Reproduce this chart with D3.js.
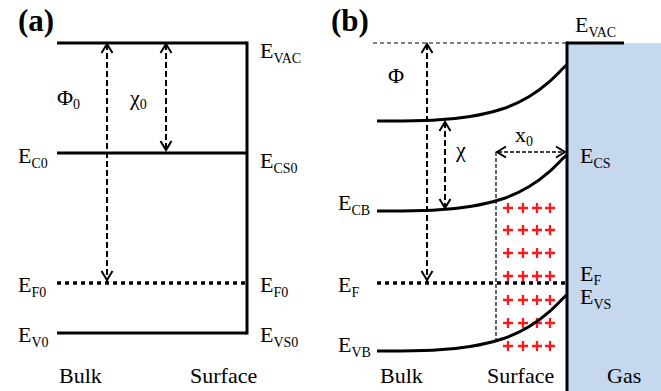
<!DOCTYPE html>
<html>
<head>
<meta charset="utf-8">
<script src="https://cdnjs.cloudflare.com/ajax/libs/d3/7.8.5/d3.min.js"></script>
<style>
  body { margin: 0; background: #fff; }
</style>
</head>
<body>
<script>
// energies in eV below the vacuum level, depth in arbitrary units from the surface

// panel (a): flat bands
var levelEnergiesA = [0, -1.1, -2.4, -2.9];
var levelStylesA = ["solid", "solid", "dotted", "solid"];
var leftSubsA = [null, "C0", "F0", "V0"];
var rightSubsA = ["VAC", "CS0", "F0", "VS0"];

// panel (b): bent bands
var bulkEnergiesB = [-0.78, -1.68, -3.08]; // vacuum, E_CB, E_VB
var fermiB = -2.4;
var bendDepth = [19, 13, 9.7, 6.4, 3.7, 1.7, 0.2, 0];
var bendAmount = [0, 0, 0.04, 0.11, 0.24, 0.39, 0.55, 0.56];
var x0Depth = 7.1;
var plusDepths = [5.9, 4.4, 3.0, 1.7];
var plusEnergies = [-1.65, -1.87, -2.10, -2.33, -2.57, -2.80, -3.03];

var regionLabels = ["Bulk", "Surface", "Gas"];

var W = 661, H = 391;
var serif = "Liberation Serif";

var svg = d3.select("body").append("svg")
    .attr("width", W)
    .attr("height", H)
    .attr("font-family", serif);

var y = d3.scaleLinear().domain([0, -3]).range([43, 343]);
var xA = d3.scaleLinear().domain([19, 0]).range([57, 247]);
var xB = d3.scaleLinear().domain([19, 0]).range([377, 567]);

// band bending at a given depth (linear between read points)
function bend(d) {
    for (var i = 0; i < bendDepth.length - 1; i++) {
        if (d <= bendDepth[i] && d >= bendDepth[i + 1]) {
            var t = (bendDepth[i] - d) / (bendDepth[i] - bendDepth[i + 1]);
            return bendAmount[i] + t * (bendAmount[i + 1] - bendAmount[i]);
        }
    }
    return 0;
}

function txt(x, yb, s, size) {
    return svg.append("text")
        .attr("x", x)
        .attr("y", yb)
        .attr("font-family", serif)
        .attr("font-size", size || 22)
        .attr("fill", "#000")
        .text(s);
}

function eLabel(x, yb, sub, dy) {
    var t = txt(x, yb, "E");
    if (sub) {
        t.append("tspan")
            .attr("dy", dy || 5)
            .attr("font-size", 14)
            .text(sub);
    }
}

function symLabel(x, yb, sym, sub) {
    var t = txt(x, yb, sym);
    if (sub) {
        t.append("tspan")
            .attr("dy", 4)
            .attr("font-size", 14)
            .text(sub);
    }
}

// open V arrowhead, dir = "up" | "down" | "left" | "right"
function head(x, yy, dir) {
    var a = 5.5, l = 9;
    var p;
    if (dir == "up") p = [[x - a, yy + l], [x, yy], [x + a, yy + l]];
    if (dir == "down") p = [[x - a, yy - l], [x, yy], [x + a, yy - l]];
    if (dir == "left") p = [[x + l, yy - a], [x, yy], [x + l, yy + a]];
    if (dir == "right") p = [[x - l, yy - a], [x, yy], [x - l, yy + a]];
    svg.append("path")
        .attr("d", d3.line()(p))
        .attr("fill", "none")
        .attr("stroke", "#000")
        .attr("stroke-width", 2);
}

function vArrow(x, e1, e2) {
    svg.append("line")
        .attr("x1", x).attr("x2", x)
        .attr("y1", y(e1) + 1).attr("y2", y(e2) - 1)
        .attr("stroke", "#000")
        .attr("stroke-width", 2)
        .attr("stroke-dasharray", "6,3");
    head(x, y(e1) + 1, "up");
    head(x, y(e2) - 3, "down");
}

// ---------- panel (a) ----------
txt(18, 31, "(a)", 31).attr("font-weight", "bold");

svg.selectAll("line.levA")
    .data(levelEnergiesA)
    .enter()
    .append("line")
    .attr("class", "levA")
    .attr("x1", xA(19))
    .attr("x2", xA(0))
    .attr("y1", function(d) { return y(d); })
    .attr("y2", function(d) { return y(d); })
    .attr("stroke", "#000")
    .attr("stroke-width", function(d, i) { return levelStylesA[i] == "dotted" ? 3.5 : 3; })
    .attr("stroke-dasharray", function(d, i) { return levelStylesA[i] == "dotted" ? "4,4" : null; });

svg.append("line")
    .attr("x1", xA(0)).attr("x2", xA(0))
    .attr("y1", y(levelEnergiesA[0]) - 1.5)
    .attr("y2", y(levelEnergiesA[3]) + 1.5)
    .attr("stroke", "#000")
    .attr("stroke-width", 3);

vArrow(xA(14), levelEnergiesA[0], levelEnergiesA[2]);
vArrow(xA(8.1), levelEnergiesA[0], levelEnergiesA[1]);
symLabel(57, 105, "\u03A6", "0");
symLabel(130, 105, "\u03C7", "0");

var leftOffA = [0, 10, 9, 9];
var rightOffA = [15, 15, 9, 9];
levelEnergiesA.forEach(function(e, i) {
    if (leftSubsA[i]) eLabel(18, y(e) + leftOffA[i], leftSubsA[i]);
    eLabel(260, y(e) + rightOffA[i], rightSubsA[i]);
});

txt(59, 383, regionLabels[0]);
txt(190, 383, regionLabels[1]);

// ---------- panel (b) ----------
svg.append("rect")
    .attr("x", xB(0))
    .attr("y", y(0))
    .attr("width", W - xB(0))
    .attr("height", H - y(0))
    .attr("fill", "#c6d8ee");

txt(331, 31, "(b)", 31).attr("font-weight", "bold");

// thin dashed vacuum reference
svg.append("line")
    .attr("x1", 373).attr("x2", xB(0))
    .attr("y1", y(0)).attr("y2", y(0))
    .attr("stroke", "#000")
    .attr("stroke-width", 1)
    .attr("stroke-dasharray", "4,3");

// positive charges
plusEnergies.forEach(function(e) {
    plusDepths.forEach(function(d) {
        var cx = xB(d), cy = y(e);
        svg.append("path")
            .attr("d", "M" + (cx - 5) + "," + cy + "H" + (cx + 5) + "M" + cx + "," + (cy - 5) + "V" + (cy + 5))
            .attr("stroke", "#ff1818")
            .attr("stroke-width", 2.3);
    });
});

// x0 marker
svg.append("line")
    .attr("x1", xB(x0Depth)).attr("x2", xB(x0Depth))
    .attr("y1", 152)
    .attr("y2", y(bulkEnergiesB[2] + bend(x0Depth)))
    .attr("stroke", "#000")
    .attr("stroke-width", 1.2)
    .attr("stroke-dasharray", "4,2");
svg.append("line")
    .attr("x1", xB(x0Depth) + 2).attr("x2", xB(0) - 3)
    .attr("y1", 152).attr("y2", 152)
    .attr("stroke", "#000")
    .attr("stroke-width", 1.5)
    .attr("stroke-dasharray", "4,2");
head(xB(x0Depth) + 1, 152, "left");
head(xB(0) - 2, 152, "right");
symLabel(515, 142, "x", "0");

// Fermi level
svg.append("line")
    .attr("x1", xB(19)).attr("x2", xB(0))
    .attr("y1", y(fermiB)).attr("y2", y(fermiB))
    .attr("stroke", "#000")
    .attr("stroke-width", 3.5)
    .attr("stroke-dasharray", "4,4");

// bent bands
var bandLine = d3.line()
    .x(function(d) { return xB(d.depth); })
    .y(function(d) { return y(d.e); })
    .curve(d3.curveBasis);

bulkEnergiesB.forEach(function(eb) {
    var pts = bendDepth.map(function(d, i) { return { depth: d, e: eb + bendAmount[i] }; });
    svg.append("path")
        .attr("d", bandLine(pts))
        .attr("fill", "none")
        .attr("stroke", "#000")
        .attr("stroke-width", 3);
});

vArrow(xB(14), 0, fermiB);
vArrow(xB(12.2), bulkEnergiesB[0], bulkEnergiesB[1]);
symLabel(388, 83, "\u03A6", null);
symLabel(456, 157, "\u03C7", null);

// surface and vacuum level in gas
svg.append("line")
    .attr("x1", xB(0)).attr("x2", xB(0))
    .attr("y1", y(0) - 1.5).attr("y2", H)
    .attr("stroke", "#000")
    .attr("stroke-width", 3);
svg.append("line")
    .attr("x1", xB(0)).attr("x2", 624)
    .attr("y1", y(0)).attr("y2", y(0))
    .attr("stroke", "#000")
    .attr("stroke-width", 3);

var surfCB = bulkEnergiesB[1] + bendAmount[bendAmount.length - 1];
var surfVB = bulkEnergiesB[2] + bendAmount[bendAmount.length - 1];
eLabel(575, 32, "VAC");
eLabel(580, y(surfCB) + 8, "CS");
eLabel(580, y(fermiB) - 2, "F", 4);
eLabel(580, y(surfVB) + 9, "VS");
eLabel(338, y(bulkEnergiesB[1]) - 1, "CB");
eLabel(338, y(fermiB) + 9, "F");
eLabel(338, y(bulkEnergiesB[2]) + 1, "VB");

txt(380, 383, regionLabels[0]);
txt(487, 383, regionLabels[1]);
txt(607, 383, regionLabels[2]);
</script>
</body>
</html>
